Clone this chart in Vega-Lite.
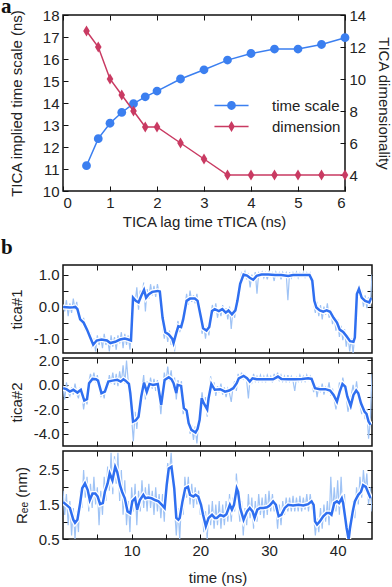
{
"$schema":"https://vega.github.io/schema/vega-lite/v6.json",
"padding":{"left":0,"top":-5,"right":0,"bottom":0},
"config":{"font":"Liberation Sans","view":{"stroke":"#111","strokeWidth":1.5},
"axis":{"grid":false,"domain":false,"tickColor":"#111","tickSize":-5,"tickWidth":1,"labelPadding":9,"labelFontSize":15,"titleFontSize":15,"titleFontWeight":"normal","labelColor":"#222","titleColor":"#222","labelFont":"Liberation Sans","titleFont":"Liberation Sans"},
"legend":{"labelFontSize":15,"labelColor":"#222","labelFont":"Liberation Sans","padding":0,"symbolSize":121,"labelOffset":33,"symbolStrokeWidth":0},
"title":{"font":"Liberation Serif","fontSize":21,"fontWeight":"bold","anchor":"start","frame":"group","baseline":"alphabetic","color":"#111"}},
"datasets":{
"a":[
{"lag":0.5,"series":"time scale","value":11.15},{"lag":0.75,"series":"time scale","value":12.38},{"lag":1,"series":"time scale","value":13.08},{"lag":1.25,"series":"time scale","value":13.57},{"lag":1.5,"series":"time scale","value":13.97},{"lag":1.75,"series":"time scale","value":14.28},{"lag":2,"series":"time scale","value":14.54},{"lag":2.5,"series":"time scale","value":15.09},{"lag":3,"series":"time scale","value":15.51},{"lag":3.5,"series":"time scale","value":15.95},{"lag":4,"series":"time scale","value":16.25},{"lag":4.5,"series":"time scale","value":16.45},{"lag":5,"series":"time scale","value":16.45},{"lag":5.5,"series":"time scale","value":16.66},{"lag":6,"series":"time scale","value":16.97},
{"lag":0.5,"series":"dimension","value":13},{"lag":0.75,"series":"dimension","value":12},{"lag":1,"series":"dimension","value":10},{"lag":1.25,"series":"dimension","value":9},{"lag":1.5,"series":"dimension","value":8},{"lag":1.75,"series":"dimension","value":7},{"lag":2,"series":"dimension","value":7},{"lag":2.5,"series":"dimension","value":6},{"lag":3,"series":"dimension","value":5},{"lag":3.5,"series":"dimension","value":4},{"lag":4,"series":"dimension","value":4},{"lag":4.5,"series":"dimension","value":4},{"lag":5,"series":"dimension","value":4},{"lag":5.5,"series":"dimension","value":4},{"lag":6,"series":"dimension","value":4}],
"s1":[{"t":0,"v":-0.01},{"t":0.5,"v":-0.02},{"t":1,"v":-0.03},{"t":1.5,"v":-0.02},{"t":1.8,"v":-0.01},{"t":2.1,"v":-0.08},{"t":2.5,"v":-0.4},{"t":3.0,"v":-0.5},{"t":3.5,"v":-0.72},{"t":4.0,"v":-0.98},{"t":4.4,"v":-1.19},{"t":4.9,"v":-1.06},{"t":5.6,"v":-1.03},{"t":6.4,"v":-1.06},{"t":6.9,"v":-1.14},{"t":7.6,"v":-1.1},{"t":8.3,"v":-1.03},{"t":9.0,"v":-1.0},{"t":9.5,"v":-1.03},{"t":9.9,"v":-1.06},{"t":10.2,"v":0.28},{"t":10.6,"v":0.18},{"t":11.0,"v":0.13},{"t":11.4,"v":0.34},{"t":11.8,"v":0.52},{"t":12.1,"v":0.28},{"t":12.5,"v":0.39},{"t":13.0,"v":0.46},{"t":13.8,"v":0.49},{"t":14.1,"v":0.47},{"t":14.5,"v":-0.35},{"t":14.9,"v":-0.8},{"t":15.4,"v":-0.87},{"t":15.9,"v":-1.0},{"t":16.1,"v":-1.14},{"t":16.5,"v":-0.82},{"t":16.8,"v":-0.61},{"t":17.2,"v":-0.64},{"t":17.5,"v":-0.4},{"t":18.0,"v":0.18},{"t":18.5,"v":0.25},{"t":19.2,"v":0.25},{"t":19.6,"v":0.18},{"t":20.1,"v":-0.35},{"t":20.4,"v":-0.68},{"t":20.9,"v":-0.75},{"t":21.3,"v":-0.64},{"t":21.7,"v":-0.14},{"t":22.1,"v":-0.08},{"t":22.7,"v":-0.14},{"t":23.2,"v":-0.08},{"t":23.7,"v":-0.19},{"t":24.1,"v":-0.12},{"t":24.6,"v":-0.24},{"t":25.1,"v":-0.12},{"t":25.4,"v":0.18},{"t":25.8,"v":0.71},{"t":26.3,"v":1.0},{"t":26.8,"v":0.97},{"t":27.2,"v":0.9},{"t":27.7,"v":0.84},{"t":28.2,"v":0.96},{"t":28.9,"v":1.0},{"t":29.9,"v":1.0},{"t":30.9,"v":0.99},{"t":31.8,"v":0.99},{"t":32.8,"v":0.96},{"t":33.5,"v":0.99},{"t":34.2,"v":0.99},{"t":34.9,"v":0.99},{"t":35.9,"v":0.99},{"t":36.3,"v":0.81},{"t":36.6,"v":0.18},{"t":36.9,"v":-0.03},{"t":37.4,"v":-0.12},{"t":37.9,"v":-0.16},{"t":38.4,"v":-0.12},{"t":38.9,"v":-0.16},{"t":39.4,"v":-0.35},{"t":39.9,"v":-0.5},{"t":40.3,"v":-0.72},{"t":40.8,"v":-0.79},{"t":41.3,"v":-0.93},{"t":41.8,"v":-1.08},{"t":42.3,"v":-1.1},{"t":42.5,"v":-0.97},{"t":42.8,"v":0.39},{"t":43.1,"v":0.55},{"t":43.5,"v":0.28},{"t":44.0,"v":0.18},{"t":44.6,"v":0.13},{"t":44.9,"v":0.28}],
"r1":[{"t":0,"v":0.05},{"t":0.25,"v":-0.15},{"t":0.5,"v":0.2},{"t":0.75,"v":-0.3},{"t":1,"v":0.1},{"t":1.25,"v":-0.2},{"t":1.5,"v":0.25},{"t":1.75,"v":-0.1},{"t":2,"v":0.15},{"t":2.25,"v":-0.35},{"t":2.5,"v":-0.2},{"t":2.75,"v":-0.55},{"t":3,"v":-0.35},{"t":3.25,"v":-0.75},{"t":3.5,"v":-0.6},{"t":3.75,"v":-0.95},{"t":4,"v":-0.8},{"t":4.25,"v":-1.3},{"t":4.5,"v":-1.0},{"t":4.75,"v":-1.4},{"t":5,"v":-0.9},{"t":5.25,"v":-1.2},{"t":5.5,"v":-0.95},{"t":5.75,"v":-1.3},{"t":6,"v":-0.85},{"t":6.25,"v":-1.2},{"t":6.5,"v":-1.0},{"t":6.75,"v":-1.4},{"t":7,"v":-0.9},{"t":7.25,"v":-1.25},{"t":7.5,"v":-0.95},{"t":7.75,"v":-1.35},{"t":8,"v":-0.9},{"t":8.25,"v":-1.15},{"t":8.5,"v":-0.8},{"t":8.75,"v":-1.3},{"t":9,"v":-0.85},{"t":9.25,"v":-1.2},{"t":9.5,"v":-0.9},{"t":9.75,"v":-1.35},{"t":10,"v":-0.6},{"t":10.25,"v":0.35},{"t":10.5,"v":0.1},{"t":10.75,"v":0.6},{"t":11,"v":-0.1},{"t":11.25,"v":0.5},{"t":11.5,"v":0.3},{"t":11.75,"v":0.75},{"t":12,"v":-0.15},{"t":12.25,"v":0.55},{"t":12.5,"v":0.25},{"t":12.75,"v":0.7},{"t":13,"v":0.35},{"t":13.25,"v":0.65},{"t":13.5,"v":0.3},{"t":13.75,"v":0.7},{"t":14,"v":0.4},{"t":14.25,"v":-0.2},{"t":14.5,"v":-0.6},{"t":14.75,"v":-1.0},{"t":15,"v":-0.7},{"t":15.25,"v":-1.1},{"t":15.5,"v":-0.75},{"t":15.75,"v":-1.2},{"t":16,"v":-0.95},{"t":16.25,"v":-1.4},{"t":16.5,"v":-0.7},{"t":16.75,"v":-0.45},{"t":17,"v":-0.8},{"t":17.25,"v":-0.5},{"t":17.5,"v":-0.3},{"t":17.75,"v":0.0},{"t":18,"v":0.4},{"t":18.25,"v":0.05},{"t":18.5,"v":0.5},{"t":18.75,"v":0.15},{"t":19,"v":0.35},{"t":19.25,"v":0.1},{"t":19.5,"v":0.4},{"t":19.75,"v":-0.1},{"t":20,"v":-0.3},{"t":20.25,"v":-0.85},{"t":20.5,"v":-0.55},{"t":20.75,"v":-1.0},{"t":21,"v":-0.6},{"t":21.25,"v":-0.9},{"t":21.5,"v":-0.3},{"t":21.75,"v":0.05},{"t":22,"v":-0.2},{"t":22.25,"v":0.1},{"t":22.5,"v":-0.35},{"t":22.75,"v":-0.05},{"t":23,"v":-0.3},{"t":23.25,"v":0.05},{"t":23.5,"v":-0.25},{"t":23.75,"v":-0.05},{"t":24,"v":-0.4},{"t":24.25,"v":0.0},{"t":24.5,"v":-0.7},{"t":24.75,"v":-0.1},{"t":25,"v":-0.35},{"t":25.25,"v":0.1},{"t":25.5,"v":0.4},{"t":25.75,"v":0.75},{"t":26,"v":1.05},{"t":26.25,"v":0.95},{"t":26.5,"v":1.1},{"t":26.75,"v":0.85},{"t":27,"v":1.05},{"t":27.25,"v":0.6},{"t":27.5,"v":1.0},{"t":27.75,"v":0.8},{"t":28,"v":1.08},{"t":28.25,"v":0.4},{"t":28.5,"v":1.05},{"t":28.75,"v":0.95},{"t":29,"v":1.08},{"t":29.25,"v":0.9},{"t":29.5,"v":1.05},{"t":29.75,"v":0.85},{"t":30,"v":1.08},{"t":30.25,"v":0.95},{"t":30.5,"v":1.05},{"t":30.75,"v":0.8},{"t":31,"v":1.08},{"t":31.25,"v":0.95},{"t":31.5,"v":1.06},{"t":31.75,"v":0.85},{"t":32,"v":1.07},{"t":32.25,"v":0.95},{"t":32.5,"v":1.05},{"t":32.75,"v":0.2},{"t":33,"v":1.07},{"t":33.25,"v":0.9},{"t":33.5,"v":1.06},{"t":33.75,"v":0.95},{"t":34,"v":1.08},{"t":34.25,"v":0.9},{"t":34.5,"v":1.05},{"t":34.75,"v":0.95},{"t":35,"v":1.07},{"t":35.25,"v":0.92},{"t":35.5,"v":1.06},{"t":35.75,"v":0.95},{"t":36,"v":1.05},{"t":36.25,"v":0.7},{"t":36.5,"v":0.1},{"t":36.75,"v":-0.2},{"t":37,"v":0.15},{"t":37.25,"v":-0.3},{"t":37.5,"v":0.05},{"t":37.75,"v":-0.4},{"t":38,"v":0.0},{"t":38.25,"v":-0.25},{"t":38.5,"v":0.1},{"t":38.75,"v":-0.35},{"t":39,"v":-0.1},{"t":39.25,"v":-0.55},{"t":39.5,"v":-0.3},{"t":39.75,"v":-0.75},{"t":40,"v":-0.4},{"t":40.25,"v":-0.95},{"t":40.5,"v":-0.6},{"t":40.75,"v":-1.05},{"t":41,"v":-0.7},{"t":41.25,"v":-1.25},{"t":41.5,"v":-0.9},{"t":41.75,"v":-1.4},{"t":42,"v":-1.0},{"t":42.25,"v":-1.45},{"t":42.5,"v":-0.9},{"t":42.75,"v":0.2},{"t":43,"v":0.6},{"t":43.25,"v":0.3},{"t":43.5,"v":0.5},{"t":43.75,"v":0.0},{"t":44,"v":0.35},{"t":44.25,"v":-0.05},{"t":44.5,"v":0.3},{"t":44.75,"v":0.0},{"t":45,"v":1.0}],
"s2":[{"t":0,"v":-0.27},{"t":0.5,"v":-0.35},{"t":1.0,"v":-0.55},{"t":1.5,"v":-0.4},{"t":2.1,"v":-0.63},{"t":2.6,"v":-0.4},{"t":3.1,"v":-1.28},{"t":3.5,"v":-1.17},{"t":3.8,"v":0.14},{"t":4.3,"v":0.49},{"t":4.8,"v":0.46},{"t":5.1,"v":0.35},{"t":5.6,"v":-0.68},{"t":6.1,"v":-0.55},{"t":6.6,"v":0.27},{"t":7.2,"v":0.35},{"t":7.9,"v":0.41},{"t":8.4,"v":0.27},{"t":8.8,"v":0.46},{"t":9.1,"v":0.35},{"t":9.6,"v":0.08},{"t":9.8,"v":-0.68},{"t":10.2,"v":-3.0},{"t":10.6,"v":-2.9},{"t":11.0,"v":-2.6},{"t":11.4,"v":-0.95},{"t":11.8,"v":0.19},{"t":12.2,"v":-0.57},{"t":12.6,"v":0.08},{"t":13.1,"v":0.0},{"t":13.8,"v":0.08},{"t":14.3,"v":-1.63},{"t":14.8,"v":0.41},{"t":15.4,"v":0.63},{"t":15.8,"v":0.46},{"t":16.1,"v":0.14},{"t":16.5,"v":-0.68},{"t":16.7,"v":0.0},{"t":17.2,"v":-0.08},{"t":17.6,"v":-1.9},{"t":18.0,"v":-2.1},{"t":18.3,"v":-3.13},{"t":18.7,"v":-3.68},{"t":19.3,"v":-3.9},{"t":19.6,"v":-3.6},{"t":19.9,"v":-2.86},{"t":20.2,"v":-1.09},{"t":20.5,"v":-1.5},{"t":21.0,"v":-2.0},{"t":21.2,"v":-1.1},{"t":21.6,"v":0.08},{"t":22.1,"v":-0.4},{"t":22.9,"v":-0.35},{"t":23.6,"v":-0.55},{"t":24.2,"v":-0.46},{"t":24.8,"v":-0.27},{"t":25.3,"v":0.14},{"t":25.6,"v":0.54},{"t":26.3,"v":0.74},{"t":26.8,"v":0.54},{"t":27.2,"v":0.27},{"t":27.6,"v":0.54},{"t":28.2,"v":0.46},{"t":28.9,"v":0.46},{"t":29.9,"v":0.46},{"t":30.6,"v":0.46},{"t":31.3,"v":0.68},{"t":31.8,"v":0.49},{"t":32.8,"v":0.46},{"t":33.8,"v":0.46},{"t":34.8,"v":0.49},{"t":35.7,"v":0.54},{"t":36.2,"v":0.49},{"t":36.7,"v":-0.27},{"t":37.4,"v":-0.35},{"t":38.2,"v":-0.35},{"t":38.9,"v":-0.46},{"t":39.4,"v":-0.82},{"t":39.9,"v":-1.36},{"t":40.3,"v":-0.55},{"t":40.7,"v":0.08},{"t":41.1,"v":-0.14},{"t":41.4,"v":-0.95},{"t":41.9,"v":-1.72},{"t":42.3,"v":-0.82},{"t":42.7,"v":-0.46},{"t":43.0,"v":-0.68},{"t":43.4,"v":-1.5},{"t":43.9,"v":-2.18},{"t":44.2,"v":-2.37},{"t":44.5,"v":-3.0},{"t":44.8,"v":-3.27}],
"r2":[{"t":0,"v":-0.1},{"t":0.25,"v":-1.2},{"t":0.5,"v":0.2},{"t":0.75,"v":-0.6},{"t":1,"v":-0.9},{"t":1.25,"v":-0.2},{"t":1.5,"v":-0.8},{"t":1.75,"v":0.1},{"t":2,"v":-0.7},{"t":2.25,"v":-1.1},{"t":2.5,"v":-0.2},{"t":2.75,"v":-0.7},{"t":3,"v":-2.0},{"t":3.25,"v":-1.0},{"t":3.5,"v":-1.6},{"t":3.75,"v":0.2},{"t":4,"v":0.9},{"t":4.25,"v":0.3},{"t":4.5,"v":1.0},{"t":4.75,"v":0.2},{"t":5,"v":0.8},{"t":5.25,"v":-0.3},{"t":5.5,"v":-1.0},{"t":5.75,"v":-0.4},{"t":6,"v":-1.1},{"t":6.25,"v":0.2},{"t":6.5,"v":-0.2},{"t":6.75,"v":0.8},{"t":7,"v":0.1},{"t":7.25,"v":1.0},{"t":7.5,"v":0.0},{"t":7.75,"v":0.9},{"t":8,"v":-0.1},{"t":8.25,"v":1.1},{"t":8.5,"v":0.2},{"t":8.75,"v":1.6},{"t":9,"v":0.1},{"t":9.25,"v":2.0},{"t":9.5,"v":0.3},{"t":9.75,"v":-0.6},{"t":10,"v":-2.8},{"t":10.25,"v":-4.6},{"t":10.5,"v":-2.2},{"t":10.75,"v":-3.6},{"t":11,"v":-2.0},{"t":11.25,"v":-1.2},{"t":11.5,"v":-0.3},{"t":11.75,"v":0.8},{"t":12,"v":-1.2},{"t":12.25,"v":0.3},{"t":12.5,"v":-0.4},{"t":12.75,"v":0.6},{"t":13,"v":-0.3},{"t":13.25,"v":0.5},{"t":13.5,"v":-0.5},{"t":13.75,"v":0.4},{"t":14,"v":-0.8},{"t":14.25,"v":-2.4},{"t":14.5,"v":-0.6},{"t":14.75,"v":1.0},{"t":15,"v":0.2},{"t":15.25,"v":1.5},{"t":15.5,"v":0.3},{"t":15.75,"v":1.2},{"t":16,"v":-0.2},{"t":16.25,"v":0.6},{"t":16.5,"v":-1.2},{"t":16.75,"v":0.4},{"t":17,"v":-0.5},{"t":17.25,"v":0.3},{"t":17.5,"v":-2.4},{"t":17.75,"v":-1.5},{"t":18,"v":-2.8},{"t":18.25,"v":-2.2},{"t":18.5,"v":-4.0},{"t":18.75,"v":-3.3},{"t":19,"v":-4.5},{"t":19.25,"v":-3.4},{"t":19.5,"v":-4.8},{"t":19.75,"v":-3.0},{"t":20,"v":-2.0},{"t":20.25,"v":-0.6},{"t":20.5,"v":-1.8},{"t":20.75,"v":-1.0},{"t":21,"v":-2.6},{"t":21.25,"v":-0.8},{"t":21.5,"v":0.7},{"t":21.75,"v":-0.5},{"t":22,"v":0.2},{"t":22.25,"v":-0.9},{"t":22.5,"v":-0.1},{"t":22.75,"v":-0.6},{"t":23,"v":0.1},{"t":23.25,"v":-0.8},{"t":23.5,"v":-0.2},{"t":23.75,"v":-1.0},{"t":24,"v":-0.3},{"t":24.25,"v":-0.7},{"t":24.5,"v":-1.4},{"t":24.75,"v":-0.2},{"t":25,"v":0.3},{"t":25.25,"v":-0.5},{"t":25.5,"v":0.9},{"t":25.75,"v":0.4},{"t":26,"v":1.0},{"t":26.25,"v":0.5},{"t":26.5,"v":0.8},{"t":26.75,"v":0.3},{"t":27,"v":-1.1},{"t":27.25,"v":0.6},{"t":27.5,"v":0.2},{"t":27.75,"v":0.9},{"t":28,"v":0.3},{"t":28.25,"v":0.7},{"t":28.5,"v":0.3},{"t":28.75,"v":0.8},{"t":29,"v":0.3},{"t":29.25,"v":0.7},{"t":29.5,"v":0.2},{"t":29.75,"v":0.8},{"t":30,"v":0.4},{"t":30.25,"v":0.7},{"t":30.5,"v":0.2},{"t":30.75,"v":0.9},{"t":31,"v":0.4},{"t":31.25,"v":1.0},{"t":31.5,"v":0.3},{"t":31.75,"v":0.8},{"t":32,"v":0.3},{"t":32.25,"v":0.7},{"t":32.5,"v":0.2},{"t":32.75,"v":0.8},{"t":33,"v":0.3},{"t":33.25,"v":0.7},{"t":33.5,"v":0.3},{"t":33.75,"v":-0.5},{"t":34,"v":0.6},{"t":34.25,"v":0.3},{"t":34.5,"v":0.8},{"t":34.75,"v":0.3},{"t":35,"v":0.7},{"t":35.25,"v":0.3},{"t":35.5,"v":0.8},{"t":35.75,"v":0.4},{"t":36,"v":0.7},{"t":36.25,"v":0.2},{"t":36.5,"v":-0.6},{"t":36.75,"v":0.1},{"t":37,"v":-1.0},{"t":37.25,"v":-0.1},{"t":37.5,"v":-0.6},{"t":37.75,"v":0.1},{"t":38,"v":-0.8},{"t":38.25,"v":-0.2},{"t":38.5,"v":-0.5},{"t":38.75,"v":0.2},{"t":39,"v":-0.9},{"t":39.25,"v":-0.3},{"t":39.5,"v":-1.2},{"t":39.75,"v":-2.0},{"t":40,"v":-1.1},{"t":40.25,"v":0.2},{"t":40.5,"v":-0.4},{"t":40.75,"v":0.6},{"t":41,"v":-0.2},{"t":41.25,"v":-1.0},{"t":41.5,"v":-2.2},{"t":41.75,"v":-1.4},{"t":42,"v":-0.8},{"t":42.25,"v":0.0},{"t":42.5,"v":-0.9},{"t":42.75,"v":0.3},{"t":43,"v":-1.0},{"t":43.25,"v":-1.6},{"t":43.5,"v":-2.4},{"t":43.75,"v":-1.6},{"t":44,"v":-2.8},{"t":44.25,"v":-2.0},{"t":44.5,"v":-4.4},{"t":44.75,"v":-3.0},{"t":45,"v":0.9}],
"s3":[{"t":0,"v":1.57},{"t":0.5,"v":1.49},{"t":1.0,"v":1.4},{"t":1.5,"v":1.06},{"t":1.75,"v":0.97},{"t":2.1,"v":1.06},{"t":2.5,"v":1.54},{"t":2.8,"v":1.97},{"t":3.2,"v":2.11},{"t":3.6,"v":1.92},{"t":3.9,"v":1.63},{"t":4.3,"v":1.82},{"t":4.7,"v":1.82},{"t":5.05,"v":1.73},{"t":5.4,"v":1.51},{"t":5.8,"v":1.54},{"t":6.1,"v":1.87},{"t":6.5,"v":2.11},{"t":6.8,"v":2.4},{"t":7.2,"v":2.2},{"t":7.6,"v":2.59},{"t":7.9,"v":2.44},{"t":8.3,"v":2.06},{"t":8.6,"v":1.87},{"t":9.0,"v":1.68},{"t":9.4,"v":1.3},{"t":9.8,"v":1.25},{"t":10.1,"v":1.6},{"t":10.5,"v":1.68},{"t":10.8,"v":1.35},{"t":11.2,"v":1.63},{"t":11.7,"v":1.78},{"t":12.0,"v":1.68},{"t":12.4,"v":1.7},{"t":12.9,"v":1.68},{"t":13.4,"v":1.63},{"t":13.9,"v":1.59},{"t":14.4,"v":1.49},{"t":14.8,"v":1.4},{"t":15.1,"v":2.06},{"t":15.4,"v":2.54},{"t":15.8,"v":2.59},{"t":16.2,"v":1.97},{"t":16.5,"v":1.11},{"t":16.8,"v":1.06},{"t":17.0,"v":1.11},{"t":17.4,"v":1.59},{"t":17.8,"v":1.97},{"t":18.2,"v":2.01},{"t":18.5,"v":1.78},{"t":19.0,"v":1.73},{"t":19.3,"v":1.78},{"t":19.7,"v":1.73},{"t":20.1,"v":1.49},{"t":20.4,"v":1.2},{"t":20.8,"v":0.87},{"t":21.2,"v":1.11},{"t":21.7,"v":1.2},{"t":22.1,"v":1.11},{"t":22.4,"v":1.11},{"t":22.9,"v":1.2},{"t":23.4,"v":1.16},{"t":23.8,"v":1.22},{"t":24.3,"v":1.49},{"t":24.6,"v":1.35},{"t":24.9,"v":1.49},{"t":25.3,"v":1.97},{"t":25.5,"v":1.87},{"t":25.8,"v":1.4},{"t":26.3,"v":1.06},{"t":26.8,"v":1.3},{"t":27.2,"v":1.4},{"t":27.6,"v":1.3},{"t":27.9,"v":1.11},{"t":28.3,"v":1.35},{"t":28.7,"v":1.4},{"t":29.2,"v":1.4},{"t":29.7,"v":1.42},{"t":30.1,"v":1.47},{"t":30.6,"v":1.59},{"t":31.0,"v":1.49},{"t":31.4,"v":1.16},{"t":31.8,"v":1.2},{"t":32.3,"v":1.4},{"t":32.8,"v":1.49},{"t":33.5,"v":1.47},{"t":34.3,"v":1.49},{"t":35.0,"v":1.47},{"t":35.7,"v":1.51},{"t":36.2,"v":1.59},{"t":36.5,"v":1.49},{"t":36.7,"v":1.01},{"t":37.0,"v":0.92},{"t":37.4,"v":1.01},{"t":37.9,"v":1.16},{"t":38.4,"v":1.25},{"t":38.8,"v":1.25},{"t":39.1,"v":1.2},{"t":39.5,"v":1.54},{"t":39.9,"v":1.59},{"t":40.2,"v":1.54},{"t":40.6,"v":1.68},{"t":40.8,"v":1.54},{"t":41.1,"v":1.11},{"t":41.3,"v":0.82},{"t":41.6,"v":0.49},{"t":41.8,"v":0.82},{"t":42.2,"v":1.3},{"t":42.5,"v":1.59},{"t":43.0,"v":1.78},{"t":43.4,"v":1.87},{"t":43.7,"v":2.06},{"t":44.1,"v":2.01},{"t":44.5,"v":1.82},{"t":44.8,"v":1.68}],
"r3":[{"t":0,"v":1.9},{"t":0.25,"v":1.2},{"t":0.5,"v":1.8},{"t":0.75,"v":0.9},{"t":1,"v":1.6},{"t":1.25,"v":0.6},{"t":1.5,"v":1.4},{"t":1.75,"v":0.5},{"t":2,"v":1.3},{"t":2.25,"v":0.7},{"t":2.5,"v":1.9},{"t":2.75,"v":1.4},{"t":3,"v":2.5},{"t":3.25,"v":1.7},{"t":3.5,"v":2.3},{"t":3.75,"v":1.3},{"t":4,"v":2.1},{"t":4.25,"v":1.4},{"t":4.5,"v":2.3},{"t":4.75,"v":1.5},{"t":5,"v":2.0},{"t":5.25,"v":0.9},{"t":5.5,"v":1.9},{"t":5.75,"v":1.2},{"t":6,"v":2.3},{"t":6.25,"v":1.6},{"t":6.5,"v":2.6},{"t":6.75,"v":1.9},{"t":7,"v":3.0},{"t":7.25,"v":1.8},{"t":7.5,"v":2.9},{"t":7.75,"v":2.1},{"t":8,"v":3.0},{"t":8.25,"v":1.6},{"t":8.5,"v":2.5},{"t":8.75,"v":1.2},{"t":9,"v":2.2},{"t":9.25,"v":0.9},{"t":9.5,"v":1.6},{"t":9.75,"v":0.7},{"t":10,"v":2.0},{"t":10.25,"v":1.3},{"t":10.5,"v":2.1},{"t":10.75,"v":0.9},{"t":11,"v":1.9},{"t":11.25,"v":1.3},{"t":11.5,"v":2.2},{"t":11.75,"v":1.4},{"t":12,"v":2.0},{"t":12.25,"v":1.3},{"t":12.5,"v":2.1},{"t":12.75,"v":1.4},{"t":13,"v":1.9},{"t":13.25,"v":1.2},{"t":13.5,"v":2.0},{"t":13.75,"v":1.3},{"t":14,"v":1.8},{"t":14.25,"v":1.1},{"t":14.5,"v":1.8},{"t":14.75,"v":1.0},{"t":15,"v":2.2},{"t":15.25,"v":2.7},{"t":15.5,"v":2.4},{"t":15.75,"v":3.0},{"t":16,"v":2.2},{"t":16.25,"v":1.4},{"t":16.5,"v":0.6},{"t":16.75,"v":1.4},{"t":17,"v":0.5},{"t":17.25,"v":1.6},{"t":17.5,"v":1.2},{"t":17.75,"v":2.3},{"t":18,"v":1.7},{"t":18.25,"v":2.3},{"t":18.5,"v":1.5},{"t":18.75,"v":2.1},{"t":19,"v":1.4},{"t":19.25,"v":2.0},{"t":19.5,"v":1.5},{"t":19.75,"v":1.9},{"t":20,"v":1.2},{"t":20.25,"v":1.5},{"t":20.5,"v":0.7},{"t":20.75,"v":1.3},{"t":21,"v":0.5},{"t":21.25,"v":1.5},{"t":21.5,"v":0.9},{"t":21.75,"v":1.6},{"t":22,"v":0.8},{"t":22.25,"v":1.5},{"t":22.5,"v":0.9},{"t":22.75,"v":1.6},{"t":23,"v":0.8},{"t":23.25,"v":1.5},{"t":23.5,"v":0.9},{"t":23.75,"v":1.6},{"t":24,"v":1.0},{"t":24.25,"v":1.8},{"t":24.5,"v":1.0},{"t":24.75,"v":1.7},{"t":25,"v":1.3},{"t":25.25,"v":2.4},{"t":25.5,"v":1.6},{"t":25.75,"v":1.0},{"t":26,"v":1.6},{"t":26.25,"v":0.6},{"t":26.5,"v":1.4},{"t":26.75,"v":0.9},{"t":27,"v":1.8},{"t":27.25,"v":1.1},{"t":27.5,"v":1.7},{"t":27.75,"v":0.8},{"t":28,"v":1.6},{"t":28.25,"v":1.0},{"t":28.5,"v":1.8},{"t":28.75,"v":1.2},{"t":29,"v":1.7},{"t":29.25,"v":1.1},{"t":29.5,"v":1.8},{"t":29.75,"v":1.2},{"t":30,"v":1.9},{"t":30.25,"v":1.3},{"t":30.5,"v":1.8},{"t":30.75,"v":1.3},{"t":31,"v":1.5},{"t":31.25,"v":0.8},{"t":31.5,"v":1.5},{"t":31.75,"v":0.9},{"t":32,"v":1.6},{"t":32.25,"v":1.2},{"t":32.5,"v":1.7},{"t":32.75,"v":1.3},{"t":33,"v":1.7},{"t":33.25,"v":1.3},{"t":33.5,"v":1.75},{"t":33.75,"v":1.3},{"t":34,"v":1.7},{"t":34.25,"v":1.3},{"t":34.5,"v":1.75},{"t":34.75,"v":1.3},{"t":35,"v":1.7},{"t":35.25,"v":1.35},{"t":35.5,"v":1.8},{"t":35.75,"v":1.3},{"t":36,"v":1.8},{"t":36.25,"v":1.4},{"t":36.5,"v":1.2},{"t":36.75,"v":0.6},{"t":37,"v":1.1},{"t":37.25,"v":0.7},{"t":37.5,"v":1.4},{"t":37.75,"v":0.8},{"t":38,"v":1.5},{"t":38.25,"v":1.0},{"t":38.5,"v":1.6},{"t":38.75,"v":0.9},{"t":39,"v":2.3},{"t":39.25,"v":1.2},{"t":39.5,"v":2.0},{"t":39.75,"v":1.3},{"t":40,"v":2.2},{"t":40.25,"v":1.2},{"t":40.5,"v":2.3},{"t":40.75,"v":1.3},{"t":41,"v":1.8},{"t":41.25,"v":0.6},{"t":41.5,"v":0.5},{"t":41.75,"v":1.0},{"t":42,"v":0.7},{"t":42.25,"v":1.6},{"t":42.5,"v":1.1},{"t":42.75,"v":2.0},{"t":43,"v":1.5},{"t":43.25,"v":2.3},{"t":43.5,"v":1.7},{"t":43.75,"v":2.5},{"t":44,"v":1.9},{"t":44.25,"v":2.4},{"t":44.5,"v":1.5},{"t":44.75,"v":2.0},{"t":45,"v":1.3}]
},
"spacing":6,
"resolve":{"scale":{"color":"independent"},"legend":{"color":"independent"}},
"vconcat":[
{"title":{"text":"a","dx":-62,"offset":-9},
 "width":282,"height":176,
 "data":{"name":"a"},
 "layer":[
  {"transform":[{"filter":"datum.series === 'time scale'"}],
   "encoding":{
    "x":{"field":"lag","type":"quantitative","scale":{"domain":[0,6],"nice":false},"axis":{"orient":"bottom","values":[0,1,2,3,4,5,6],"format":"d","title":"TICA lag time τTICA (ns)","titlePadding":4}},
    "y":{"field":"value","type":"quantitative","scale":{"domain":[10,18],"nice":false,"zero":false},"axis":{"orient":"left","values":[10,11,12,13,14,15,16,17,18],"title":"TICA implied time scale (ns)","titlePadding":18}}},
   "layer":[
    {"mark":{"type":"line","color":"#3b7ff0","strokeWidth":1.5}},
    {"mark":{"type":"point","filled":true,"opacity":1,"size":121,"shape":"M-0.8,0A0.8,0.8,0,1,1,0.8,0A0.8,0.8,0,1,1,-0.8,0Z"},
     "encoding":{
      "color":{"field":"series","type":"nominal","scale":{"domain":["time scale"],"range":["#3b7ff0"]},
       "legend":{"orient":"none","legendX":161,"legendY":83,"title":null,"symbolType":"M-3.1,-0.14H3.1V0.14H-3.1Z M-0.8,0A0.8,0.8,0,1,1,0.8,0A0.8,0.8,0,1,1,-0.8,0Z","symbolFillColor":"#3b7ff0"}}}}
   ]},
  {"transform":[{"filter":"datum.series === 'dimension'"}],
   "encoding":{
    "x":{"field":"lag","type":"quantitative","scale":{"domain":[0,6],"nice":false},"axis":{"orient":"top","values":[0,1,2,3,4,5,6],"labels":false,"title":null}},
    "y":{"field":"value","type":"quantitative","scale":{"domain":[3,14],"nice":false,"zero":false},"axis":{"orient":"right","values":[4,6,8,10,12,14],"title":"TICA dimensionality","titlePadding":10}}},
   "layer":[
    {"mark":{"type":"line","color":"#c93a62","strokeWidth":1.5}},
    {"mark":{"type":"point","filled":true,"opacity":1,"size":121,"shape":"M0,-1L0.6,0L0,1L-0.6,0Z"},
     "encoding":{
      "color":{"field":"series","type":"nominal","scale":{"domain":["dimension"],"range":["#c93a62"]},
       "legend":{"orient":"none","legendX":161,"legendY":104,"title":null,"symbolType":"M-3.1,-0.14H3.1V0.14H-3.1Z M0,-1L0.6,0L0,1L-0.6,0Z","symbolFillColor":"#c93a62"}}}}
   ]}
 ],
 "resolve":{"scale":{"y":"independent","color":"independent"},"axis":{"x":"independent"},"legend":{"color":"independent"}}
},
{"title":{"text":"b","dx":-62,"offset":6},
 "spacing":5,
 "bounds":"flush",
 "vconcat":[
  {"width":309,"height":88,
   "layer":[
    {"data":{"name":"r1"},"mark":{"type":"line","color":"#9fc3f5","strokeWidth":1.2,"clip":true},
     "encoding":{"x":{"field":"t","type":"quantitative","scale":{"domain":[0,45],"nice":false},"axis":{"orient":"bottom","values":[5,10,15,20,25,30,35,40],"labels":false,"title":null}},
      "y":{"field":"v","type":"quantitative","scale":{"domain":[-1.45,1.3],"nice":false,"zero":false},"axis":{"orient":"left","values":[-1,-0.5,0,0.5,1],"labelExpr":"datum.value == 1 ? '1.0' : datum.value == 0 ? '0.0' : datum.value == -1 ? '-1.0' : ''","title":"tica#1","titlePadding":9}}}},
    {"data":{"name":"s1"},"mark":{"type":"line","color":"#ffffff","strokeWidth":5,"clip":true},
     "encoding":{"x":{"field":"t","type":"quantitative","axis":{"orient":"top","values":[5,10,15,20,25,30,35,40],"labels":false,"title":null}},
      "y":{"field":"v","type":"quantitative","axis":{"orient":"right","values":[-1,-0.5,0,0.5,1],"labels":false,"title":null}}}},
    {"data":{"name":"s1"},"mark":{"type":"line","color":"#2f6ff0","strokeWidth":2.5,"clip":true},
     "encoding":{"x":{"field":"t","type":"quantitative","axis":null},"y":{"field":"v","type":"quantitative","axis":null}}}
   ],
   "resolve":{"axis":{"x":"independent","y":"independent"}}},
  {"width":309,"height":88,
   "layer":[
    {"data":{"name":"r2"},"mark":{"type":"line","color":"#9fc3f5","strokeWidth":1.2,"clip":true},
     "encoding":{"x":{"field":"t","type":"quantitative","scale":{"domain":[0,45],"nice":false},"axis":{"orient":"bottom","values":[5,10,15,20,25,30,35,40],"labels":false,"title":null}},
      "y":{"field":"v","type":"quantitative","scale":{"domain":[-5,2.2],"nice":false,"zero":false},"axis":{"orient":"left","values":[-4,-3,-2,-1,0,1,2],"labelExpr":"datum.value == 2 ? '2.0' : datum.value == 0 ? '0.0' : datum.value == -2 ? '-2.0' : datum.value == -4 ? '-4.0' : ''","title":"tica#2","titlePadding":9}}}},
    {"data":{"name":"s2"},"mark":{"type":"line","color":"#ffffff","strokeWidth":5,"clip":true},
     "encoding":{"x":{"field":"t","type":"quantitative","axis":{"orient":"top","values":[5,10,15,20,25,30,35,40],"labels":false,"title":null}},
      "y":{"field":"v","type":"quantitative","axis":{"orient":"right","values":[-4,-3,-2,-1,0,1,2],"labels":false,"title":null}}}},
    {"data":{"name":"s2"},"mark":{"type":"line","color":"#2f6ff0","strokeWidth":2.5,"clip":true},
     "encoding":{"x":{"field":"t","type":"quantitative","axis":null},"y":{"field":"v","type":"quantitative","axis":null}}}
   ],
   "resolve":{"axis":{"x":"independent","y":"independent"}}},
  {"width":309,"height":88,
   "layer":[
    {"data":{"name":"r3"},"mark":{"type":"line","color":"#9fc3f5","strokeWidth":1.2,"clip":true},
     "encoding":{"x":{"field":"t","type":"quantitative","scale":{"domain":[0,45],"nice":false},"axis":{"orient":"bottom","values":[5,10,15,20,25,30,35,40],"labelExpr":"datum.value % 10 == 0 ? datum.label : ''","title":"time (ns)","titlePadding":12}},
      "y":{"field":"v","type":"quantitative","scale":{"domain":[0.5,3.05],"nice":false,"zero":false},"axis":{"orient":"left","values":[0.5,1,1.5,2,2.5],"labelExpr":"datum.value == 0.5 ? '0.5' : datum.value == 1.5 ? '1.5' : datum.value == 2.5 ? '2.5' : ''","title":"Rₑₑ (nm)","titlePadding":9}}}},
    {"data":{"name":"s3"},"mark":{"type":"line","color":"#ffffff","strokeWidth":5,"clip":true},
     "encoding":{"x":{"field":"t","type":"quantitative","axis":{"orient":"top","values":[5,10,15,20,25,30,35,40],"labels":false,"title":null}},
      "y":{"field":"v","type":"quantitative","axis":{"orient":"right","values":[1,1.5,2,2.5],"labels":false,"title":null}}}},
    {"data":{"name":"s3"},"mark":{"type":"line","color":"#2f6ff0","strokeWidth":2.5,"clip":true},
     "encoding":{"x":{"field":"t","type":"quantitative","axis":null},"y":{"field":"v","type":"quantitative","axis":null}}}
   ],
   "resolve":{"axis":{"x":"independent","y":"independent"}}}
 ]}
]
}
